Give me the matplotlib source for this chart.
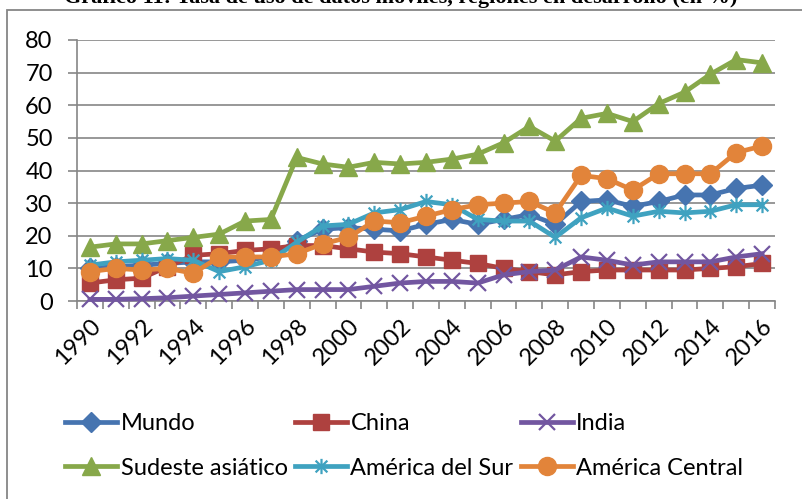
"""Series chart: six regions, 1990-2016, Excel-style look."""

import matplotlib.pyplot as plt
import numpy as np
from matplotlib.patches import Rectangle
from matplotlib.path import Path

plt.rcParams["font.family"] = ["Lato", "DejaVu Sans"]

years = list(range(1990, 2017))

mundo = [10, 10.5, 11, 11.5, 12, 12, 12.5, 13.5, 18.5, 22, 22.5, 22, 21.5,
         23.5, 25, 23.5, 25, 26.5, 23.5, 30.5, 31, 29, 30.5, 32.5, 32.5,
         34.5, 35.5]
china = [5.5, 6.5, 7, 10.5, 14, 14.5, 15.5, 16, 17, 17, 16, 15, 14.5, 13.5,
         12.5, 11.5, 10, 9, 8, 9, 9.5, 9.5, 9.5, 9.5, 10, 10.5, 11.5]
india = [0.5, 0.5, 0.7, 1, 1.5, 2, 2.5, 3, 3.5, 3.5, 3.5, 4.5, 5.5, 6, 6,
         5.5, 8, 9, 9.5, 13.5, 12.5, 11, 12, 12, 12, 13.5, 14.5]
sudeste = [16.5, 17.5, 17.5, 18.5, 19.5, 20.5, 24.5, 25, 44, 42, 41, 42.5,
           42, 42.5, 43.5, 45, 48.5, 53.5, 49, 56, 57.5, 55, 60.5, 64, 69.5,
           74, 73]
america_sur = [11, 12, 12.5, 13, 12.5, 9, 10.5, 12.5, 18, 23, 23.5, 27, 28,
               30.5, 29.5, 25, 24.5, 24.5, 19.5, 25.5, 28.5, 26, 27.5, 27,
               27.5, 29.5, 29.5]
america_central = [9, 10, 9.5, 10, 8.5, 13.5, 13.5, 13.5, 14.5, 17.5, 19.5,
                   24.5, 24, 26, 28, 29.5, 30, 30.5, 27, 38.5, 37.5, 34, 39,
                   39, 39, 45.5, 47.5]

labels = ["Mundo", "China", "India", "Sudeste asiático",
          "América del Sur", "América Central"]

# Excel "star" marker: an x with a vertical bar through it
star = Path([(-1, -1), (1, 1), (-1, 1), (1, -1), (0, -1.3), (0, 1.3)],
            [Path.MOVETO, Path.LINETO, Path.MOVETO, Path.LINETO,
             Path.MOVETO, Path.LINETO])

styles = [
    dict(color="#4674B0", marker="D", ms=10.5),
    dict(color="#AE413F", marker="s", ms=11),
    dict(color="#7256A0", marker="x", ms=11, mew=1.6),
    dict(color="#87A84A", marker="^", ms=13),
    dict(color="#3FA2C0", marker=star, ms=11, mew=1.6),
    dict(color="#E2843A", marker="o", ms=13),
]

fig = plt.figure(figsize=(8.02, 4.99), dpi=100)
ax = fig.add_axes([77 / 802, 1 - 301 / 499, 698 / 802, 261 / 499])

x = np.arange(len(years))
series = [mundo, china, india, sudeste, america_sur, america_central]
handles = []
for vals, lab, st in zip(series, labels, styles):
    h, = ax.plot(x, vals, label=lab, lw=3.4, color=st["color"],
                 marker=st["marker"], ms=st["ms"], mew=st.get("mew", 1),
                 mfc=st["color"], mec=st["color"], clip_on=False, zorder=3)
    handles.append(h)

grey = "#868686"
ax.set_ylim(0, 80)
ax.set_yticks(range(0, 81, 10))
ax.set_xlim(-0.5, len(years) - 0.5)
ax.set_xticks(np.arange(-0.5, len(years), 1))
ax.set_xticklabels([])
ax.set_xticks(x[::2], minor=True)
ax.set_xticklabels([str(y) for y in years[::2]], minor=True, rotation=45,
                   ha="right", va="top", rotation_mode="anchor")
ax.tick_params(axis="x", which="major", length=6, width=1.2, color=grey,
               direction="out")
ax.tick_params(axis="x", which="minor", length=0, pad=10, labelsize=17)
ax.tick_params(axis="y", length=6.5, width=1.2, color=grey, pad=11,
               labelsize=17)
ax.grid(axis="y", color=grey, lw=1.2)
ax.set_axisbelow(True)
for side in ["top", "right"]:
    ax.spines[side].set_visible(False)
for side in ["left", "bottom"]:
    ax.spines[side].set_color(grey)
    ax.spines[side].set_linewidth(1.2)

# legend laid out row by row, three per row
order = [0, 3, 1, 4, 2, 5]
fig.legend([handles[i] for i in order], [labels[i] for i in order],
           loc="upper left", bbox_to_anchor=(56 / 802, 1 - 404 / 499),
           ncol=3, frameon=False, fontsize=17, handlelength=2.2,
           handletextpad=0.15, columnspacing=0.3, labelspacing=0.98,
           numpoints=1, borderaxespad=0)

# outer chart border (cut off at the right and bottom)
fig.patches.append(Rectangle((7 / 802, -0.1), 1.2, 1 - 10 / 499 + 0.1,
                             transform=fig.transFigure, fill=False,
                             edgecolor=grey, lw=1.3))

# caption above the chart, mostly cropped away
fig.text(0.5, 1 - 3 / 499,
         "Gráfico 11: Tasa de uso de datos móviles, regiones en desarrollo (en %)",
         ha="center", va="baseline", fontsize=16, fontweight="bold",
         family="Liberation Serif")

fig.savefig("out.png", dpi=100)
